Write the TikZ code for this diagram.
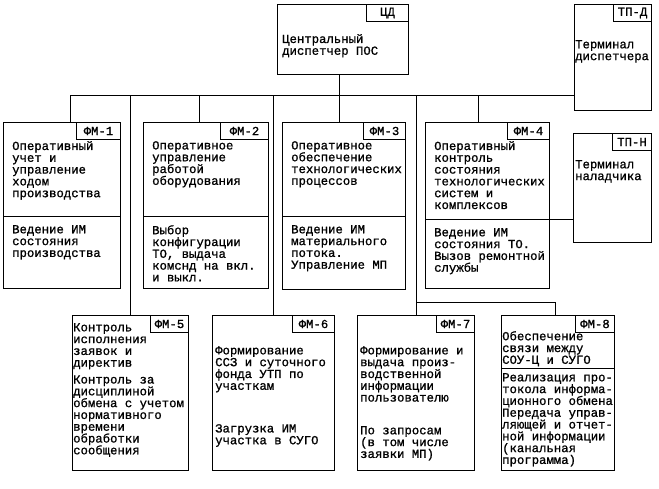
\documentclass[tikz,border=0pt]{standalone}
\usepackage{fontspec}
\usepackage{tikz}
\usetikzlibrary{positioning,calc}
\newfontfamily\typewr[FakeBold=1]{Liberation Mono}

\begin{document}
\begin{tikzpicture}[
  x=1pt,y=1pt,
  font=\typewr\fontsize{12.3}{11.8}\selectfont,
  fmbox/.style 2 args={draw,line width=1pt,anchor=north west,inner sep=0pt,
               minimum width=#1,minimum height=#2},
  tagbox/.style={draw,line width=1pt,anchor=north east,inner sep=1pt,
               minimum width=42pt,minimum height=17pt},
  txt/.style={anchor=north west,align=left,inner sep=0pt},
  link/.style={line width=1pt}
]
\useasboundingbox (0,0) rectangle (659,488);

% upper level
\node[fmbox={131pt}{70pt}] (cd) at (277,484) {};
\node[tagbox] (cdtag) at (cd.north east) {ЦД};
\node[txt] (cdtext) at (282,454) {Центральный\\диспетчер ПОС};

\node[fmbox={77pt}{106pt}] (tpd) at (574,484) {};
\node[tagbox,minimum width=38pt] (tpdtag) at (tpd.north east) {ТП-Д};
\node[txt] (tpdtext) at (575,448) {Терминал\\диспетчера};

\node[fmbox={78pt}{109pt}] (tpn) at (573,355) {};
\node[tagbox,minimum width=39pt] (tpntag) at (tpn.north east) {ТП-Н};
\node[txt] (tpntext) at (575,328) {Терминал\\наладчика};

% first row of modules
\node[fmbox={117pt}{166pt}] (fm1) at (3,366) {};
\node[tagbox,minimum width=44pt] (fm1tag) at (fm1.north east) {ФМ-1};
\node[txt] (fm1head) at (12,347) {Оперативный\\учет и\\управление\\ходом\\производства};
\node[txt] (fm1body) at (12,263) {Ведение ИМ\\состояния\\производства};

\node[fmbox={125pt}{166pt}] (fm2) at (143,366) {};
\node[tagbox,minimum width=48pt] (fm2tag) at (fm2.north east) {ФМ-2};
\node[txt] (fm2head) at (152,347) {Оперативное\\управление\\работой\\оборудования};
\node[txt] (fm2body) at (152,263) {Выбор\\конфигурации\\ТО, выдача\\комснд на вкл.\\и выкл.};

\node[fmbox={123pt}{167pt}] (fm3) at (282,366) {};
\node[tagbox] (fm3tag) at (fm3.north east) {ФМ-3};
\node[txt] (fm3head) at (291,347) {Оперативное\\обеспечение\\технологических\\процессов};
\node[txt] (fm3body) at (291,263) {Ведение ИМ\\материального\\потока.\\Управление МП};

\node[fmbox={124pt}{166pt}] (fm4) at (425,366) {};
\node[tagbox] (fm4tag) at (fm4.north east) {ФМ-4};
\node[txt] (fm4head) at (434,347) {Оперативный\\контроль\\состояния\\технологических\\систем и\\комплексов};
\node[txt] (fm4body) at (434,260) {Ведение ИМ\\состояния ТО.\\Вызов ремонтной\\службы};

% second row of modules
\node[fmbox={116pt}{155pt}] (fm5) at (72,173) {};
\node[tagbox,minimum width=38pt] (fm5tag) at (fm5.north east) {ФМ-5};
\node[txt] (fm5text) at (73,165) {Контроль\\исполнения\\заявок и\\директив\\[5pt]Контроль за\\дисциплиной\\обмена с учетом\\нормативного\\времени\\обработки\\сообщения};

\node[fmbox={122pt}{155pt}] (fm6) at (212,173) {};
\node[tagbox] (fm6tag) at (fm6.north east) {ФМ-6};
\node[txt] (fm6head) at (215,142) {Формирование\\ССЗ и суточного\\фонда УТП по\\участкам};
\node[txt] (fm6body) at (215,64) {Загрузка ИМ\\участка в СУГО};

\node[fmbox={117pt}{155pt}] (fm7) at (357,173) {};
\node[tagbox,minimum width=38pt] (fm7tag) at (fm7.north east) {ФМ-7};
\node[txt] (fm7head) at (360,142) {Формирование и\\выдача произ-\\водственной\\информации\\пользователю};
\node[txt] (fm7body) at (360,62) {По запросам\\(в том числе\\заявки МП)};

\node[fmbox={113pt}{155pt}] (fm8) at (501,173) {};
\node[tagbox,minimum width=39pt] (fm8tag) at (fm8.north east) {ФМ-8};
\node[txt] (fm8head) at (502,157) {Обеспечение\\связи между\\СОУ-Ц и СУГО};
\node[txt] (fm8body) at (502,115) {Реализация про-\\токола информа-\\ционного обмена\\Передача управ-\\ляющей и отчет-\\ной информации\\(канальная\\программа)};

% dividers
\draw[link] ([yshift=-95pt]fm1.north west) -- ([yshift=-95pt]fm1.north east);
\draw[link] ([yshift=-95pt]fm2.north west) -- ([yshift=-95pt]fm2.north east);
\draw[link] ([yshift=-95pt]fm3.north west) -- ([yshift=-95pt]fm3.north east);
\draw[link] ([yshift=-98pt]fm4.north west) -- ([yshift=-98pt]fm4.north west -| tpn.west);
\draw[link] ([yshift=-53pt]fm8.north west) -- ([yshift=-53pt]fm8.north east);

% bus and connections
\coordinate (busL) at (70,392);
\draw[link] (busL) -- (busL -| tpd.west);
\draw[link] (busL) -- (busL |- fm1.north);
\draw[link] (fm5.north) -- (fm5.north |- busL);
\draw[link] ([xshift=-7pt]fm2.north) -- ([xshift=-7pt]fm2.north |- busL);
\draw[link] (fm6.north) -- (fm6.north |- busL);
\draw[link] ([xshift=-5pt]fm3.north) -- ([xshift=-5pt]fm3.north |- cd.south);
\draw[link] (fm7.north) -- (fm7.north |- busL);
\draw[link] ($(fm7.north)+(0,12)$) -| ([xshift=-3pt]fm8.north);
\draw[link] ([xshift=-9pt]fm4.north) -- ([xshift=-9pt]fm4.north |- busL);
\end{tikzpicture}
\end{document}
